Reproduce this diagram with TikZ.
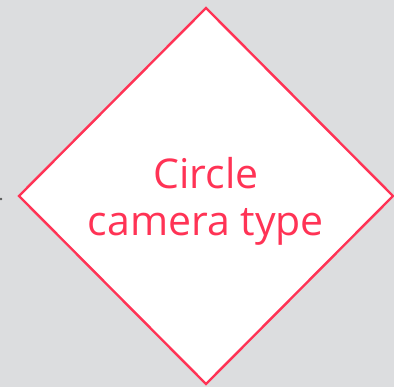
\documentclass[tikz,border=0pt]{standalone}
\usepackage{fontspec}
\setmainfont{Open Sans}
\usetikzlibrary{shapes.geometric}
\definecolor{bg}{HTML}{DCDDDF}
\definecolor{accent}{HTML}{FF3355}
\definecolor{dotc}{HTML}{555555}
\tikzset{
  decision/.style={diamond, draw=accent, fill=white, line width=2.4pt,
    minimum width=375pt, minimum height=377pt, inner sep=0pt,
    text=accent, align=center, font=\fontsize{41}{47}\selectfont}
}
\begin{document}
\begin{tikzpicture}[x=1pt,y=1pt]
\fill[bg] (0,0) rectangle (394,387);
\useasboundingbox (0,0) rectangle (394,387);
\node[decision] (d) at (206,191) {};
\node[text=accent, align=center, font=\fontsize{41}{47}\selectfont, inner sep=0pt] (t) at (206,186) {Circle\\camera type};
\coordinate (e) at (1,188);
\fill[dotc] (e) circle (1.3pt);
\end{tikzpicture}
\end{document}
